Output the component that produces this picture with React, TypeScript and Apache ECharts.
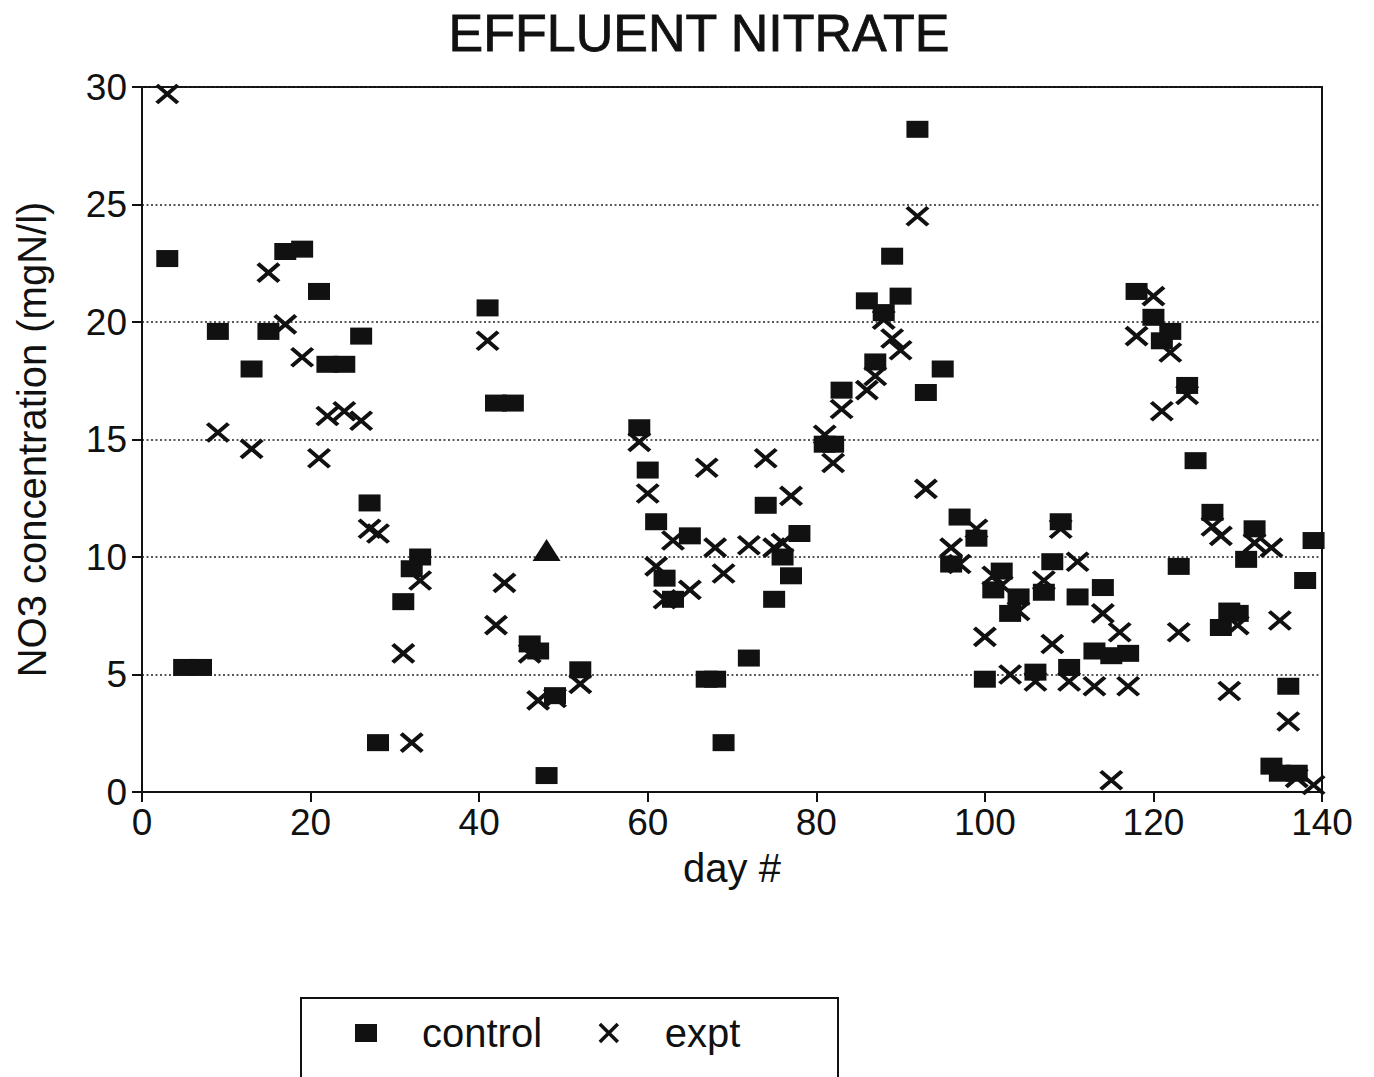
import React, { useEffect, useRef } from "react";
import * as echarts from "echarts";

const chartTitle = "EFFLUENT NITRATE";
const xAxisName = "day #";
const yAxisName = "NO3 concentration (mgN/l)";
const seriesNames = ["control", "expt"];

const controlDays = [3, 5, 7, 9, 13, 15, 17, 19, 21, 22, 24, 26, 27, 28, 31, 32, 33, 41, 42, 44, 46, 47, 48, 49, 52, 59, 60, 61, 62, 63, 65, 67, 68, 69, 72, 74, 75, 76, 77, 78, 81, 82, 83, 86, 87, 88, 89, 90, 92, 93, 95, 96, 97, 99, 100, 101, 102, 103, 104, 106, 107, 108, 109, 110, 111, 113, 114, 115, 117, 118, 120, 121, 122, 123, 124, 125, 127, 128, 129, 130, 131, 132, 134, 135, 136, 137, 138, 139];
const controlValues = [22.7, 5.3, 5.3, 19.6, 18.0, 19.6, 23.0, 23.1, 21.3, 18.2, 18.2, 19.4, 12.3, 2.1, 8.1, 9.5, 10.0, 20.6, 16.55, 16.55, 6.3, 6.0, 0.7, 4.1, 5.2, 15.5, 13.7, 11.5, 9.1, 8.2, 10.9, 4.8, 4.8, 2.1, 5.7, 12.2, 8.2, 10.0, 9.2, 11.0, 14.8, 14.8, 17.1, 20.9, 18.3, 20.4, 22.8, 21.1, 28.2, 17.0, 18.0, 9.7, 11.7, 10.8, 4.8, 8.6, 9.4, 7.6, 8.3, 5.1, 8.5, 9.8, 11.5, 5.3, 8.3, 6.0, 8.7, 5.8, 5.9, 21.3, 20.2, 19.2, 19.6, 9.6, 17.3, 14.1, 11.9, 7.0, 7.7, 7.6, 9.9, 11.2, 1.1, 0.8, 4.5, 0.8, 9.0, 10.7];

const exptDays = [3, 9, 13, 15, 17, 19, 21, 22, 24, 26, 27, 28, 31, 32, 33, 41, 42, 43, 46, 47, 49, 52, 59, 60, 61, 62, 63, 65, 67, 68, 69, 72, 74, 75, 76, 77, 81, 82, 83, 86, 87, 88, 89, 90, 92, 93, 96, 97, 99, 100, 101, 102, 103, 104, 106, 107, 108, 109, 110, 111, 113, 114, 115, 116, 117, 118, 120, 121, 122, 123, 124, 127, 128, 129, 130, 132, 134, 135, 136, 137, 139];
const exptValues = [29.7, 15.3, 14.6, 22.1, 19.9, 18.5, 14.2, 16.0, 16.2, 15.8, 11.2, 11.0, 5.9, 2.1, 9.0, 19.2, 7.1, 8.9, 5.9, 3.9, 4.0, 4.6, 14.9, 12.7, 9.6, 8.2, 10.7, 8.6, 13.8, 10.4, 9.3, 10.5, 14.2, 10.4, 10.6, 12.6, 15.2, 14.0, 16.3, 17.1, 17.7, 20.1, 19.3, 18.8, 24.5, 12.9, 10.4, 9.7, 11.2, 6.6, 9.2, 8.8, 5.0, 7.7, 4.7, 9.0, 6.3, 11.2, 4.7, 9.8, 4.5, 7.6, 0.5, 6.8, 4.5, 19.4, 21.1, 16.2, 18.7, 6.8, 16.9, 11.3, 10.9, 4.3, 7.1, 10.6, 10.4, 7.3, 3.0, 0.6, 0.3];

// odd marker (triangle) seen at day 48
const triangleDays = [48];
const triangleValues = [10.3];

const xTicks = { min: 0, max: 140, interval: 20 };
const yTicks = { min: 0, max: 30, interval: 5 };

const FONT = "'Liberation Sans', Arial, Helvetica, sans-serif";
const INK = "#111";
const X_PATH = "path://M0,0L10,10M10,0L0,10";

function pairs(xs: number[], ys: number[]) {
  return xs.map((x, i) => [x, ys[i]]);
}

export default function App() {
  const ref = useRef<HTMLDivElement>(null);

  useEffect(() => {
    if (!ref.current) return;
    const chart = echarts.init(ref.current, undefined, { renderer: "svg" });
    chart.setOption({
      animation: false,
      backgroundColor: "#fff",
      title: {
        text: chartTitle,
        left: 694,
        textAlign: "center",
        top: 2,
        textStyle: { fontFamily: FONT, fontSize: 52, fontWeight: "normal", color: INK, textBorderColor: INK, textBorderWidth: 0.8 },
      },
      grid: {
        left: 142,
        right: 52,
        top: 87,
        bottom: 285,
        show: true,
        borderColor: INK,
        borderWidth: 2,
        backgroundColor: "transparent",
      },
      legend: {
        left: 350,
        top: 1008,
        itemWidth: 22,
        itemHeight: 18,
        itemGap: 56,
        selectedMode: false,
        data: [
          { name: seriesNames[0], icon: "rect" },
          { name: seriesNames[1], icon: X_PATH, itemStyle: { color: "transparent", borderColor: INK, borderWidth: 3.5 } },
        ],
        textStyle: { fontFamily: FONT, fontSize: 40, color: INK, padding: [0, 0, 0, 40] },
      },
      graphic: [
        {
          type: "rect",
          shape: { x: 301, y: 998, width: 537, height: 110 },
          style: { fill: "none", stroke: INK, lineWidth: 2 },
          silent: true,
        },
      ],
      xAxis: {
        type: "value",
        min: xTicks.min,
        max: xTicks.max,
        interval: xTicks.interval,
        name: xAxisName,
        nameLocation: "middle",
        nameGap: 56,
        nameTextStyle: { fontFamily: FONT, fontSize: 40, color: INK },
        axisLine: { show: true, onZero: false, lineStyle: { color: INK, width: 2 } },
        axisTick: { show: true, inside: false, length: 10, lineStyle: { color: INK, width: 2 } },
        axisLabel: { fontFamily: FONT, fontSize: 37, color: INK, margin: 12 },
        splitLine: { show: false },
      },
      yAxis: {
        type: "value",
        min: yTicks.min,
        max: yTicks.max,
        interval: yTicks.interval,
        name: yAxisName,
        nameLocation: "middle",
        nameGap: 90,
        nameTextStyle: { fontFamily: FONT, fontSize: 40, color: INK },
        axisLine: { show: true, onZero: false, lineStyle: { color: INK, width: 2 } },
        axisTick: { show: true, inside: false, length: 10, lineStyle: { color: INK, width: 2 } },
        axisLabel: { fontFamily: FONT, fontSize: 37, color: INK, margin: 15 },
        splitLine: { show: true, lineStyle: { color: "#222", width: 1.6, type: [2, 2.5] } },
      },
      series: [
        {
          name: seriesNames[0],
          type: "scatter",
          symbol: "rect",
          symbolSize: [22, 17],
          itemStyle: { color: INK, opacity: 1 },
          data: pairs(controlDays, controlValues),
          z: 2,
        },
        {
          name: seriesNames[1],
          type: "scatter",
          symbol: X_PATH,
          symbolSize: [21, 18],
          itemStyle: { color: "transparent", borderColor: INK, borderWidth: 4, opacity: 1 },
          data: pairs(exptDays, exptValues),
          z: 3,
        },
        {
          name: "other",
          type: "scatter",
          symbol: "triangle",
          symbolSize: [28, 22],
          itemStyle: { color: INK, opacity: 1 },
          data: pairs(triangleDays, triangleValues),
          z: 2,
        },
      ],
    });
    return () => chart.dispose();
  }, []);

  return (
    <div
      ref={ref}
      style={{ position: "absolute", left: 0, top: 0, width: 1374, height: 1077, background: "#fff" }}
    />
  );
}
